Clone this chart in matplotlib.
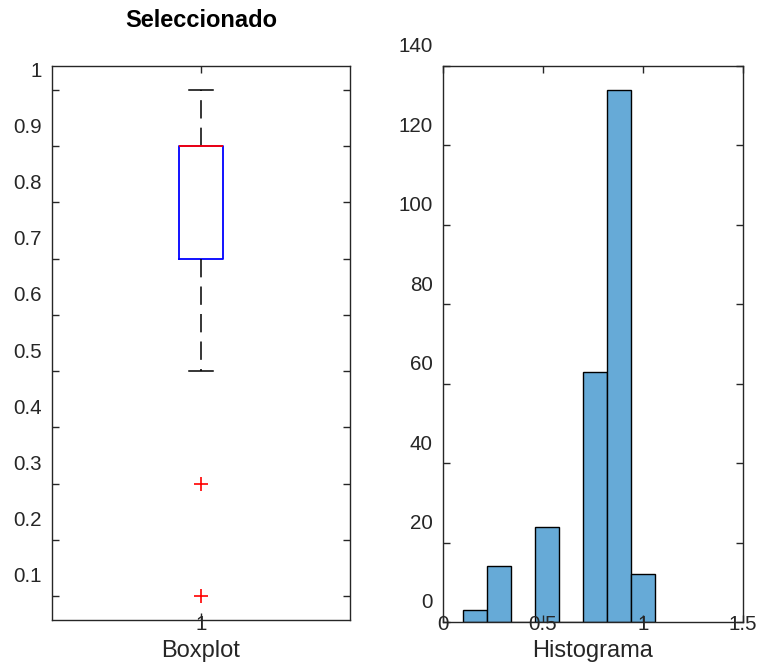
import matplotlib
matplotlib.use('Agg')
import matplotlib.pyplot as plt
import matplotlib.transforms as mtransforms
import numpy as np

# boxplot summary values
box_q1 = 0.7
box_med = 0.9
box_q3 = 0.9
whisker_low = 0.5
whisker_high = 1.0
outliers = [0.3, 0.1]

# histogram bins and counts
bin_edges = [0.1, 0.22, 0.34, 0.46, 0.58, 0.70, 0.82, 0.94, 1.06]
bin_counts = [3, 14, 0, 24, 0, 63, 134, 12]

box_yticks = [0.1, 0.2, 0.3, 0.4, 0.5, 0.6, 0.7, 0.8, 0.9, 1.0]
box_yticklabels = ['0.1', '0.2', '0.3', '0.4', '0.5', '0.6', '0.7', '0.8', '0.9', '1']
hist_xticks = [0, 0.5, 1, 1.5]
hist_xticklabels = ['0', '0.5', '1', '1.5']
hist_yticks = [0, 20, 40, 60, 80, 100, 120, 140]

plt.rcParams['font.family'] = ['Liberation Sans', 'DejaVu Sans']
ink = '#262626'

W, H = 758, 664
fig = plt.figure(figsize=(W / 100, H / 100), dpi=100)


def px_axes(x0, y0, x1, y1):
    return fig.add_axes([x0 / W, 1 - y1 / H, (x1 - x0) / W, (y1 - y0) / H])


def style(ax):
    for s in ax.spines.values():
        s.set_color(ink)
        s.set_linewidth(1.0)
    ax.tick_params(direction='in', length=5, width=1.0, colors=ink,
                   top=True, right=True, labelsize=14.8)
    ax.tick_params(axis='y', pad=7.5)
    ax.tick_params(axis='x', pad=2)


def shift_labels(ax, dy_x, dy_y):
    # tick labels sit above their ticks, like in the original export
    offx = mtransforms.ScaledTranslation(0, dy_x / 100, fig.dpi_scale_trans)
    offy = mtransforms.ScaledTranslation(0, dy_y / 100, fig.dpi_scale_trans)
    for t in ax.xaxis.get_major_ticks():
        t.label1.set_transform(t.label1.get_transform() + offx)
    for t in ax.yaxis.get_major_ticks():
        t.label1.set_transform(t.label1.get_transform() + offy)


# ---- left: boxplot
ax1 = px_axes(52, 66, 350, 620)
stats = [dict(med=box_med, q1=box_q1, q3=box_q3,
              whislo=whisker_low, whishi=whisker_high, fliers=outliers)]
ax1.bxp(stats, positions=[1], widths=0.15, capwidths=0.08,
        boxprops=dict(color='#0000FF', linewidth=1.3),
        medianprops=dict(color='#FF0000', linewidth=1.3),
        whiskerprops=dict(color='black', linewidth=1.1, linestyle=(0, (12, 6))),
        capprops=dict(color='black', linewidth=1.1),
        flierprops=dict(marker='+', markeredgecolor='#FF0000', markersize=10,
                        markeredgewidth=1.2, linestyle='none'))
ax1.set_xlim(0.5, 1.5)
ax1.set_ylim(0.0573, 1.0427)
ax1.set_xticks([1])
ax1.set_xticklabels(['1'])
ax1.set_yticks(box_yticks)
ax1.set_yticklabels(box_yticklabels)
style(ax1)
shift_labels(ax1, 8, 21)
ax1.set_xlabel('Boxplot', fontsize=17, color=ink, va='top')
ax1.xaxis.set_label_coords(0.5, -0.0361)
ax1.set_title('Seleccionado', fontsize=17, fontweight='bold', color='black',
              y=1 + (66 - 27) / 554, pad=0, va='baseline')

# ---- right: histogram
ax2 = px_axes(443, 66, 743, 622)
edges = np.array(bin_edges)
ax2.bar(edges[:-1], bin_counts, width=np.diff(edges), align='edge',
        color='#66AAD7', edgecolor='black', linewidth=1.0)
ax2.set_xlim(0, 1.5)
ax2.set_ylim(0, 140)
ax2.set_xticks(hist_xticks)
ax2.set_xticklabels(hist_xticklabels)
ax2.set_yticks(hist_yticks)
style(ax2)
shift_labels(ax2, 10, 21)
ax2.set_xlabel('Histograma', fontsize=17, color=ink, va='top')
ax2.xaxis.set_label_coords(0.5, -0.0324)

fig.savefig('out.png', dpi=100)
